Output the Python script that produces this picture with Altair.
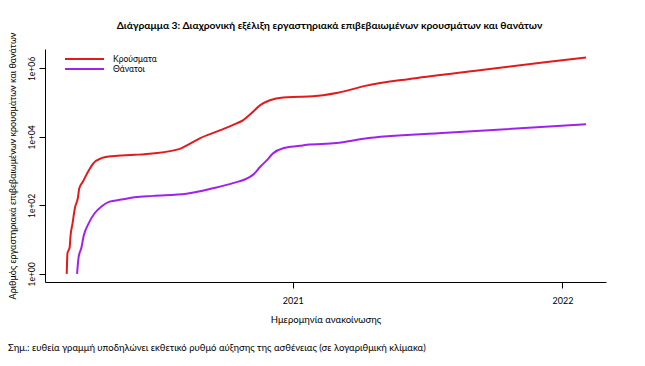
import altair as alt
import pandas as pd

title_text = "Διάγραμμα 3: Διαχρονική εξέλιξη εργαστηριακά επιβεβαιωμένων κρουσμάτων και θανάτων"
x_title = "Ημερομηνία ανακοίνωσης"
y_title = "Αριθμός εργαστηριακά επιβεβαιωμένων κρουσμάτων και θανάτων"
footnote = "Σημ.: ευθεία γραμμή υποδηλώνει εκθετικό ρυθμό αύξησης της ασθένειας (σε λογαριθμική κλίμακα)"

series_names = ["Κρούσματα", "Θάνατοι"]
series_colors = ["#e31a1c", "#a020f0"]

case_dates = ["2020-03-01", "2020-03-02", "2020-03-05", "2020-03-06", "2020-03-09",
              "2020-03-12", "2020-03-16", "2020-03-18", "2020-03-23", "2020-03-30",
              "2020-04-06", "2020-04-17", "2020-05-01", "2020-06-01", "2020-06-25",
              "2020-07-31", "2020-08-12", "2020-08-28", "2020-09-25", "2020-10-17",
              "2020-10-26", "2020-11-04", "2020-11-18", "2020-12-01", "2020-12-19",
              "2021-01-11", "2021-01-28", "2021-02-11", "2021-03-03", "2021-04-09",
              "2021-06-13", "2021-09-11", "2021-12-11", "2022-02-02"]
case_values = [1, 4, 6, 12, 31,
               83, 162, 316, 500, 980,
               1700, 2400, 2750, 3000, 3300,
               4400, 5900, 9100, 15800, 25000,
               31000, 45000, 85000, 118000, 142000,
               148000, 155000, 166000, 195000, 310000,
               510000, 890000, 1550000, 2090000]

death_dates = ["2020-03-15", "2020-03-17", "2020-03-21", "2020-03-24", "2020-03-30",
               "2020-04-08", "2020-04-17", "2020-04-28", "2020-05-14", "2020-06-01",
               "2020-06-26", "2020-08-10", "2020-09-15", "2020-10-12", "2020-11-04",
               "2020-11-08", "2020-11-18", "2020-11-27", "2020-12-05", "2020-12-19",
               "2021-01-11", "2021-01-20", "2021-03-01", "2021-04-07", "2021-07-28",
               "2022-02-02"]
death_values = [1, 3, 6, 13, 28,
                60, 93, 129, 148, 174,
                190, 219, 316, 447, 680,
                780, 1350, 2100, 3300, 4700,
                5500, 5900, 6600, 8900, 13200,
                23500]

x_tick_years = [2021, 2022]
y_tick_values = [1, 100, 10000, 1000000]
y_tick_labels = ["1e+00", "1e+02", "1e+04", "1e+06"]

df = pd.concat([
    pd.DataFrame({"date": case_dates, "value": case_values, "series": series_names[0]}),
    pd.DataFrame({"date": death_dates, "value": death_values, "series": series_names[1]}),
], ignore_index=True)

label_expr = "''"
for v, lab in zip(reversed(y_tick_values), reversed(y_tick_labels)):
    label_expr = f"datum.value == {v} ? '{lab}' : ({label_expr})"

FONT = "Lato"

lines = alt.Chart(df).mark_line(strokeWidth=2, interpolate="monotone").encode(
    x=alt.X(
        "date:T",
        scale=alt.Scale(
            type="utc",
            domain=[alt.DateTime(year=2020, month=1, date=31, hours=14, utc=True),
                    alt.DateTime(year=2022, month=3, date=1, utc=True)],
        ),
        axis=alt.Axis(
            values=[alt.DateTime(year=y, month=1, date=1, utc=True) for y in x_tick_years],
            format="%Y", title=x_title, grid=False,
            domainColor="black", tickColor="black", labelColor="black", titleColor="black",
            tickSize=6, labelPadding=8, titlePadding=9,
            labelFont=FONT, labelFontSize=9, titleFont=FONT, titleFontSize=9.5,
            titleFontWeight="normal",
        ),
    ),
    y=alt.Y(
        "value:Q",
        scale=alt.Scale(type="log", domain=[0.58, 3.7e6], nice=False),
        axis=alt.Axis(
            values=y_tick_values, labelExpr=label_expr, title=y_title, grid=False,
            labelAngle=270, labelAlign="center", labelBaseline="bottom",
            domainColor="black", tickColor="black", labelColor="black", titleColor="black",
            tickSize=6, labelPadding=3, titlePadding=10,
            labelFont=FONT, labelFontSize=8.5, titleFont=FONT, titleFontSize=9,
            titleFontWeight="normal",
        ),
    ),
    color=alt.Color(
        "series:N",
        scale=alt.Scale(domain=series_names, range=series_colors),
        legend=alt.Legend(
            title=None, orient="none", legendX=19, legendY=5,
            symbolType="stroke", symbolSize=1521, symbolStrokeWidth=2,
            clipHeight=10, rowPadding=0, labelOffset=8, padding=0,
            labelFont=FONT, labelFontSize=8.5, labelColor="black",
        ),
    ),
)

foot = alt.Chart(pd.DataFrame({"t": [footnote]})).mark_text(
    align="left", baseline="middle", font=FONT, fontSize=9.5, color="black"
).encode(text="t:N", x=alt.value(-37), y=alt.value(299))

chart = alt.layer(lines, foot).properties(
    width=561, height=233,
    title=alt.TitleParams(title_text, font=FONT, fontSize=10.3, fontWeight="bold",
                          anchor="middle", frame="group", offset=1, dx=4, color="black"),
    autosize=alt.AutoSizeParams(type="none"),
    padding={"left": 37, "top": 41, "right": 30, "bottom": 72},
).configure_view(stroke=None)

chart.save("out.html", embed_options={"renderer": "svg", "actions": False})
